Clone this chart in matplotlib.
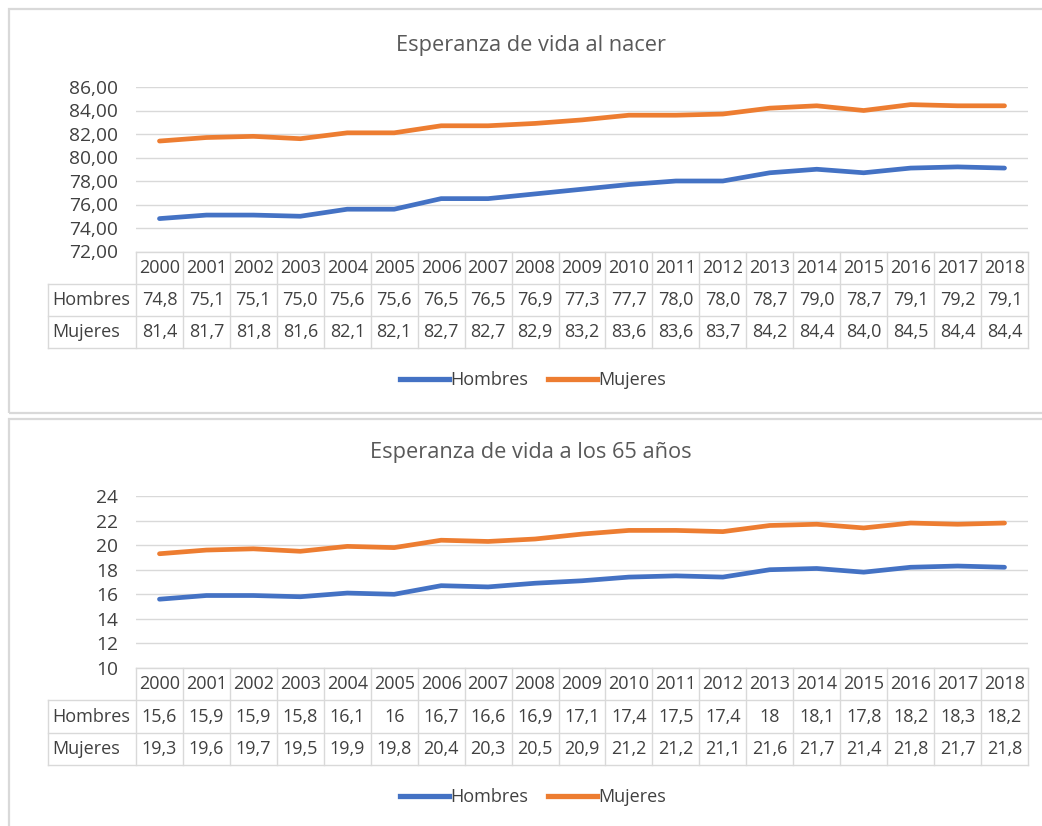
import matplotlib
matplotlib.use("Agg")
import matplotlib.pyplot as plt
from matplotlib.lines import Line2D
from matplotlib.patches import Rectangle

plt.rcParams["font.family"] = ["Open Sans", "DejaVu Sans"]

years = list(range(2000, 2019))
series_names = ["Hombres", "Mujeres"]

nacer_hombres = [74.8, 75.1, 75.1, 75.0, 75.6, 75.6, 76.5, 76.5, 76.9, 77.3,
                 77.7, 78.0, 78.0, 78.7, 79.0, 78.7, 79.1, 79.2, 79.1]
nacer_mujeres = [81.4, 81.7, 81.8, 81.6, 82.1, 82.1, 82.7, 82.7, 82.9, 83.2,
                 83.6, 83.6, 83.7, 84.2, 84.4, 84.0, 84.5, 84.4, 84.4]

a65_hombres = [15.6, 15.9, 15.9, 15.8, 16.1, 16.0, 16.7, 16.6, 16.9, 17.1,
               17.4, 17.5, 17.4, 18.0, 18.1, 17.8, 18.2, 18.3, 18.2]
a65_mujeres = [19.3, 19.6, 19.7, 19.5, 19.9, 19.8, 20.4, 20.3, 20.5, 20.9,
               21.2, 21.2, 21.1, 21.6, 21.7, 21.4, 21.8, 21.7, 21.8]

title_nacer = "Esperanza de vida al nacer"
title_65 = "Esperanza de vida a los 65 años"

nacer_ticks = [72, 74, 76, 78, 80, 82, 84, 86]
a65_ticks = [10, 12, 14, 16, 18, 20, 22, 24]

COLORS = ["#4472C4", "#ED7D31"]
GRID = "#D9D9D9"
TEXT = "#404040"
TITLE = "#595959"

W, H = 1042, 826
fig = plt.figure(figsize=(W / 100, H / 100), dpi=100)
fig.patch.set_facecolor("white")


def box(x0, y0, x1, y1):
    """Pixel box (top-left origin) -> figure fraction rect."""
    return [x0 / W, 1 - y1 / H, (x1 - x0) / W, (y1 - y0) / H]


def fmt_fixed(v):
    return f"{v:.1f}".replace(".", ",")


def fmt_general(v):
    if float(v).is_integer():
        return str(int(v))
    return f"{v:g}".replace(".", ",")


def fmt_tick_fixed(v):
    return f"{v:.2f}".replace(".", ",")


def fmt_tick_int(v):
    return f"{int(v)}"


FS = 13
TICK_FS = 13.8
TITLE_FS = 15.7
PLOT_X0, PLOT_X1 = 136, 1028
LABEL_X0 = 48
n = len(years)
col_w = (PLOT_X1 - PLOT_X0) / n
label_left = -0.5 - (PLOT_X0 - LABEL_X0) / col_w


def chart(panel, plot_y0, plot_y1, table_y1, title_y, legend_y, title,
          values, ticks, tick_fmt, cell_fmt):
    # panel frame
    fig.add_artist(Rectangle((panel[0] / W, 1 - panel[3] / H),
                             (panel[2] - panel[0]) / W,
                             (panel[3] - panel[1]) / H,
                             transform=fig.transFigure, fill=False,
                             edgecolor="#D9D9D9", linewidth=1.6))
    fig.text(531 / W, 1 - title_y / H, title, ha="center", va="center",
             fontsize=TITLE_FS, color=TITLE)

    ax = fig.add_axes(box(PLOT_X0, plot_y0, PLOT_X1, plot_y1))
    xs = list(range(n))
    for vals, c in zip(values, COLORS):
        ax.plot(xs, vals, color=c, linewidth=3.4, solid_capstyle="round",
                solid_joinstyle="round")
    ax.set_xlim(-0.5, n - 0.5)
    ax.set_ylim(ticks[0], ticks[-1])
    ax.set_yticks(ticks)
    ax.set_yticklabels([tick_fmt(t) for t in ticks], fontsize=TICK_FS,
                       color=TEXT)
    ax.tick_params(axis="y", length=0, pad=13)
    ax.set_xticks([])
    ax.grid(axis="y", color=GRID, linewidth=1.0)
    ax.set_axisbelow(True)
    for s in ax.spines.values():
        s.set_visible(False)
    ax.patch.set_alpha(0)

    # data table beneath the plot
    tx = fig.add_axes(box(LABEL_X0, plot_y1, PLOT_X1, table_y1))
    tx.set_xlim(label_left, n - 0.5)
    tx.set_ylim(3, 0)
    tx.axis("off")
    kw = dict(color=GRID, lw=1.0, clip_on=False)
    tx.plot([-0.5, n - 0.5], [0, 0], **kw)
    for r in (1, 2, 3):
        tx.plot([label_left, n - 0.5], [r, r], **kw)
    for k in range(n + 1):
        tx.plot([-0.5 + k, -0.5 + k], [0, 3], **kw)
    tx.plot([label_left, label_left], [1, 3], **kw)
    for i, y in enumerate(years):
        tx.text(i, 0.5, str(y), ha="center", va="center", fontsize=FS,
                color=TEXT)
    for r, (name, vals) in enumerate(zip(series_names, values), start=1):
        tx.text(label_left + 0.1, r + 0.5, name, ha="left", va="center",
                fontsize=FS, color=TEXT)
        for i, v in enumerate(vals):
            tx.text(i, r + 0.5, cell_fmt(v), ha="center", va="center",
                    fontsize=FS, color=TEXT)

    handles = [Line2D([], [], color=c, linewidth=3.8) for c in COLORS]
    fig.legend(handles, series_names, loc="center",
               bbox_to_anchor=(533 / W, 1 - legend_y / H), ncol=2,
               frameon=False, fontsize=FS, handlelength=2.7,
               handletextpad=0.05, columnspacing=1.15, labelcolor=TEXT)


chart((9, 9, 1046, 413), 87, 251.5, 348, 45, 380, title_nacer,
      [nacer_hombres, nacer_mujeres], nacer_ticks, fmt_tick_fixed, fmt_fixed)
chart((9, 419, 1046, 830), 496, 668, 765, 452, 797, title_65,
      [a65_hombres, a65_mujeres], a65_ticks, fmt_tick_int, fmt_general)

fig.savefig("out.png", dpi=100, facecolor="white")
